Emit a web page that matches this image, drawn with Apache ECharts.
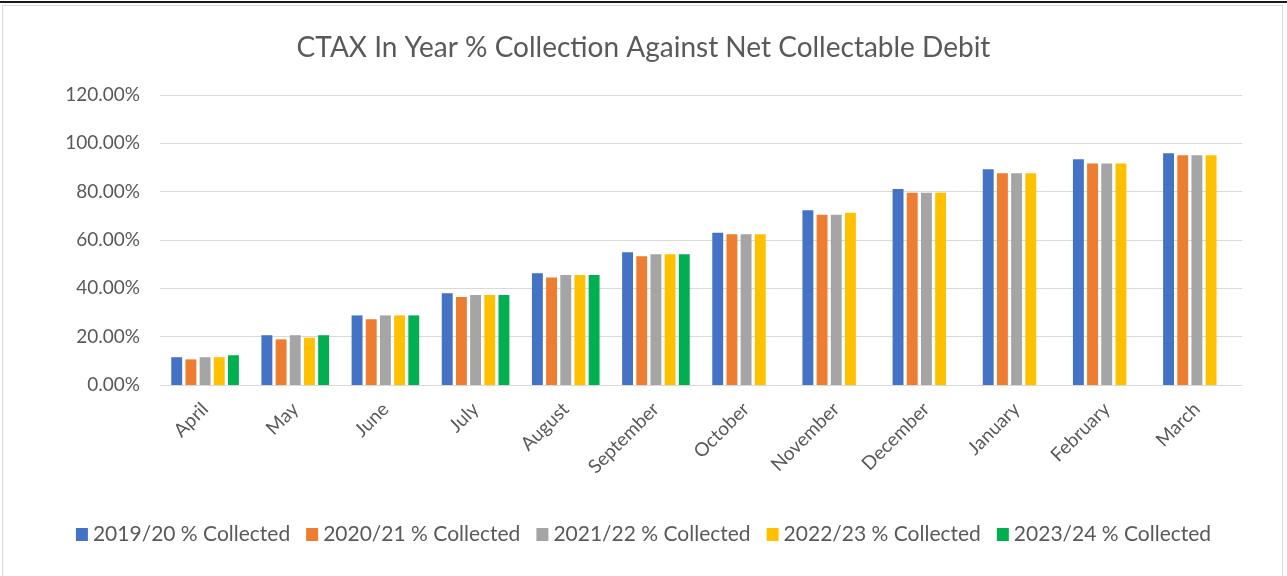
<!DOCTYPE html>
<html>
<head>
<meta charset="utf-8">
<script src="https://cdn.jsdelivr.net/npm/echarts@6/dist/echarts.min.js"></script>
<style>
html,body{margin:0;padding:0;background:#fff;}
#topline{position:absolute;left:0;top:1px;width:1287px;height:2px;background:#1a1a1a;}
#frame{position:absolute;left:2px;top:5px;width:1281px;height:580px;border:1px solid #d9d9d9;box-sizing:border-box;}
#chart{position:absolute;left:0;top:0;width:1287px;height:576px;}
</style>
</head>
<body>
<div id="topline"></div>
<div id="frame"></div>
<div id="chart"></div>
<script>
const categories = ['April','May','June','July','August','September','October','November','December','January','February','March'];
const seriesNames = ['2019/20 % Collected','2020/21 % Collected','2021/22 % Collected','2022/23 % Collected','2023/24 % Collected'];
const s2019 = [11.5, 20.6, 28.8, 38.0, 46.2, 54.9, 63.0, 72.3, 81.1, 89.3, 93.4, 95.9];
const s2020 = [10.6, 18.9, 27.2, 36.4, 44.5, 53.3, 62.4, 70.5, 79.6, 87.6, 91.7, 95.1];
const s2021 = [11.5, 20.6, 28.8, 37.2, 45.5, 54.1, 62.4, 70.5, 79.6, 87.6, 91.7, 95.1];
const s2022 = [11.5, 19.6, 28.8, 37.2, 45.5, 54.1, 62.4, 71.3, 79.6, 87.6, 91.7, 95.1];
const s2023 = [12.3, 20.6, 28.8, 37.2, 45.5, 54.1, null, null, null, null, null, null];
const colors = ['#4472C4','#ED7D31','#A5A5A5','#FFC000','#00B050'];
const allData = [s2019, s2020, s2021, s2022, s2023];
const FONT = 'Lato';

const chart = echarts.init(document.getElementById('chart'));
chart.setOption({
  animation: false,
  color: colors,
  title: {
    text: 'CTAX In Year % Collection Against Net Collectable Debit',
    left: 'center',
    top: 29,
    textStyle: {fontFamily: FONT, fontSize: 28, fontWeight: 'normal', color: '#595959'}
  },
  legend: {
    bottom: 26,
    left: 'center',
    icon: 'rect',
    itemWidth: 12,
    itemHeight: 13,
    itemGap: 16,
    textStyle: {fontFamily: FONT, fontSize: 21, color: '#595959'},
    data: seriesNames
  },
  grid: {left: 160, right: 45, top: 95, bottom: 191, containLabel: false},
  xAxis: {
    type: 'category',
    data: categories,
    axisLine: {lineStyle: {color: '#d9d9d9', width: 1}},
    axisTick: {show: false},
    axisLabel: {rotate: 45, fontFamily: FONT, fontSize: 19, color: '#595959', margin: 21, interval: 0}
  },
  yAxis: {
    type: 'value',
    min: 0, max: 120, interval: 20,
    axisLine: {show: false},
    axisTick: {show: false},
    splitLine: {lineStyle: {color: '#d9d9d9', width: 1}},
    axisLabel: {fontFamily: FONT, fontSize: 19, color: '#595959', margin: 20,
      formatter: v => v.toFixed(2) + '%'}
  },
  series: seriesNames.map((n, i) => ({
    name: n,
    type: 'bar',
    data: allData[i],
    barGap: '30%',
    barCategoryGap: '25%',
    itemStyle: {color: colors[i]}
  }))
});
</script>
</body>
</html>
